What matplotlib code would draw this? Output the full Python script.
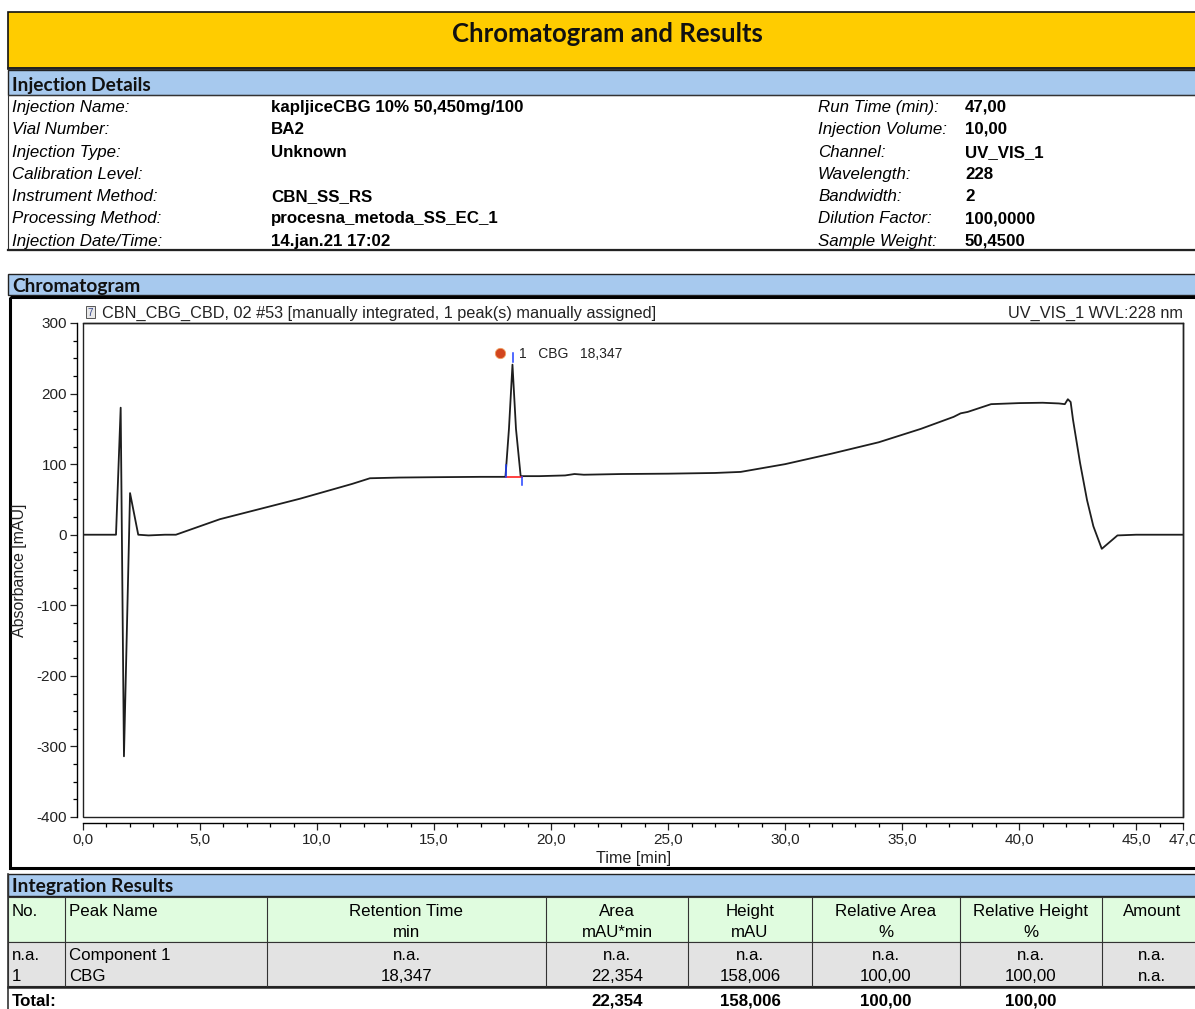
import matplotlib
matplotlib.use("Agg")
import matplotlib.pyplot as plt
from matplotlib.patches import Rectangle
from matplotlib.ticker import MultipleLocator, FixedLocator, FuncFormatter
from matplotlib import rcParams

rcParams.update({
    'font.family': ['Liberation Sans', 'DejaVu Sans'],
    'axes.unicode_minus': False,
})

# ===== data =====
detail_labels_left = ["Injection Name:", "Vial Number:", "Injection Type:", "Calibration Level:",
                      "Instrument Method:", "Processing Method:", "Injection Date/Time:"]
detail_values_left = ["kapljiceCBG 10% 50,450mg/100", "BA2", "Unknown", "",
                      "CBN_SS_RS", "procesna_metoda_SS_EC_1", "14.jan.21 17:02"]
detail_labels_right = ["Run Time (min):", "Injection Volume:", "Channel:", "Wavelength:",
                       "Bandwidth:", "Dilution Factor:", "Sample Weight:"]
detail_values_right = ["47,00", "10,00", "UV_VIS_1", "228", "2", "100,0000", "50,4500"]

# chromatogram trace (time in min, absorbance in mAU)
time_min = [0.0, 1.41, 1.61, 1.75, 2.01, 2.36, 2.8, 3.5, 3.97, 5.85, 9.27, 11.5, 12.26,
            13.5, 15.0, 17.0, 18.05, 18.2, 18.35, 18.5, 18.7, 19.5, 20.6, 21.0, 21.4,
            23.0, 25.0, 27.0, 28.1, 30.0, 32.0, 34.0, 35.8, 37.2, 37.5, 37.8, 38.8,
            40.0, 41.0, 41.7, 41.95, 42.08, 42.2, 42.3, 42.6, 42.9, 43.17, 43.53, 43.9,
            44.2, 45.0, 47.0]
absorb = [0, 0, 180, -314, 59, 0, -1, 0, 0, 22, 51, 72, 80,
          81, 81.5, 82, 82, 150, 241, 150, 83, 83, 84, 86, 85,
          86, 86.5, 87.5, 89, 100, 115, 131, 150, 167, 172, 174, 185,
          186.5, 187, 186, 185, 192, 188, 163, 102, 49, 12, -20, -9.5,
          -1, 0, 0]

peak_rt = 18.347
peak_name = "CBG"
peak_start, peak_end, peak_base = 18.06, 18.75, 82

table_cols = ["No.", "Peak Name", "Retention Time", "Area", "Height",
              "Relative Area", "Relative Height", "Amount"]
table_units = ["", "", "min", "mAU*min", "mAU", "%", "%", ""]
table_rows = [
    ["n.a.", "Component 1", "n.a.", "n.a.", "n.a.", "n.a.", "n.a.", "n.a."],
    ["1", "CBG", "18,347", "22,354", "158,006", "100,00", "100,00", "n.a."],
]
table_total = ["Total:", "", "", "22,354", "158,006", "100,00", "100,00", ""]

# ===== page =====
W, H = 1195, 1009
fig = plt.figure(figsize=(W / 100, H / 100), dpi=100)
page = fig.add_axes([0, 0, 1, 1])
page.set_xlim(0, W)
page.set_ylim(H, 0)
page.axis('off')

YELLOW = "#FFCC00"
BLUE = "#A7C9EE"
GREEN = "#E0FCDF"
GRAY = "#E3E3E3"
HEAD_FONT = ['Lato', 'DejaVu Sans']
FS = 12.2      # report text size
VA = 'center_baseline'


def box(x, y, w, h, fc="none", ec="#222222", lw=1.0, z=1):
    page.add_patch(Rectangle((x, y), w, h, facecolor=fc, edgecolor=ec, lw=lw, zorder=z))


def hline(y, x0, x1, lw=1.0, c="#222222"):
    page.plot([x0, x1], [y, y], color=c, lw=lw, zorder=3)


def vline(x, y0, y1, lw=0.8, c="#333333"):
    page.plot([x, x], [y0, y1], color=c, lw=lw, zorder=3)


# title bar
box(8, 12, 1200, 56, fc=YELLOW, ec="#111111", lw=1.2)
hline(68, 8, W, lw=2)
page.text(607, 32, "Chromatogram and Results", ha='center', va=VA,
          fontsize=18.5, fontweight='bold', family=HEAD_FONT, color="#111111")

# injection details
box(8, 70, 1200, 25, fc=BLUE, ec="#222222", lw=1.0)
page.text(12, 84, "Injection Details", ha='left', va=VA, fontsize=13.8,
          fontweight='bold', family=HEAD_FONT, color="#111111")
box(8, 95, 1200, 155, ec="#333333", lw=0.8)
hline(250, 8, W, lw=1.6)
row_y = [106, 128, 151, 173, 195, 217, 240]
for i, yy in enumerate(row_y):
    page.text(12, yy, detail_labels_left[i], ha='left', va=VA, fontsize=FS, style='italic')
    page.text(271, yy, detail_values_left[i], ha='left', va=VA, fontsize=FS, fontweight='bold')
    page.text(818, yy, detail_labels_right[i], ha='left', va=VA, fontsize=FS, style='italic')
    page.text(965, yy, detail_values_right[i], ha='left', va=VA, fontsize=FS, fontweight='bold')

# chromatogram section
box(8, 274, 1200, 21, fc=BLUE, ec="#222222", lw=1.0)
page.text(12, 285, "Chromatogram", ha='left', va=VA, fontsize=13.8,
          fontweight='bold', family=HEAD_FONT, color="#111111")
box(10, 297, 1200, 571, ec="#000000", lw=2.2)

# small report icon + titles
box(86, 306, 9, 12, fc="#E8E8E8", ec="#555555", lw=0.7, z=4)
page.text(90.5, 312, "7", ha='center', va=VA, fontsize=7, color="#334488", zorder=5)
page.text(102, 312, "CBN_CBG_CBD, 02 #53 [manually integrated, 1 peak(s) manually assigned]",
          ha='left', va=VA, fontsize=11.7, color="#222222")
page.text(1183, 312, "UV_VIS_1 WVL:228 nm", ha='right', va=VA, fontsize=11.7, color="#222222")
page.text(20, 570, "Absorbance [mAU]", ha='center', va='center', rotation=90,
          fontsize=11.4, color="#222222")
page.text(634, 857, "Time [min]", ha='center', va=VA, fontsize=11.6, color="#222222")

# ===== chromatogram axes =====
left, right, top, bottom = 83, 1183, 323, 817
ax = fig.add_axes([left / W, 1 - bottom / H, (right - left) / W, (bottom - top) / H])
ax.set_facecolor('none')
ax.set_xlim(0, 47)
ax.set_ylim(-400, 300)
ax.plot(time_min, absorb, color="#1E1E1E", lw=1.3, zorder=3)

# integration marks
ax.plot([peak_start, peak_end], [peak_base, peak_base], color="#FF2020", lw=1.2, zorder=4)
ax.plot([peak_start, peak_start], [peak_base, 99], color="#2040FF", lw=1.1, zorder=4)
ax.plot([peak_end, peak_end], [peak_base, 70], color="#2040FF", lw=1.1, zorder=4)
ax.plot([18.38, 18.38], [245, 258], color="#2040FF", lw=1.1, zorder=4)
ax.scatter([17.82], [257], s=55, color="#D2451E", marker='o', zorder=5, edgecolors="#F0A060", lw=0.6)
ax.text(18.62, 256, "1   %s   %s" % (peak_name, f"{peak_rt:.3f}".replace('.', ',')),
        ha='left', va='center', fontsize=10, color="#222222")

for s in ['top', 'right']:
    ax.spines[s].set_visible(True)
    ax.spines[s].set_linewidth(1.0)
for s in ['left', 'bottom']:
    ax.spines[s].set_position(('outward', 4.5))
    ax.spines[s].set_linewidth(1.0)
ax.add_patch(Rectangle((0, 0), 1, 1, transform=ax.transAxes, fill=False,
                       ec="#222222", lw=1.0, clip_on=False, zorder=6))

ax.yaxis.set_major_locator(MultipleLocator(100))
ax.yaxis.set_minor_locator(MultipleLocator(25))
ax.xaxis.set_major_locator(FixedLocator([0, 5, 10, 15, 20, 25, 30, 35, 40, 45, 47]))
ax.xaxis.set_minor_locator(MultipleLocator(1))
ax.yaxis.set_major_formatter(FuncFormatter(lambda v, p: f"{v:.0f}"))
ax.xaxis.set_major_formatter(FuncFormatter(lambda v, p: f"{v:.1f}".replace('.', ',')))
ax.tick_params(which='major', direction='out', length=5, width=0.9, labelsize=11,
               colors="#222222", pad=2)
ax.tick_params(which='minor', direction='out', length=3, width=0.9)

# ===== integration results =====
box(8, 874, 1200, 22, fc=BLUE, ec="#222222", lw=1.0)
page.text(12, 885, "Integration Results", ha='left', va=VA, fontsize=13.8,
          fontweight='bold', family=HEAD_FONT, color="#111111")
col_edges = [8, 65, 267, 546, 688, 812, 960, 1102, 1210]
box(8, 897, 1200, 45, fc=GREEN, ec="#333333", lw=0.8)
box(8, 942, 1200, 44, fc=GRAY, ec="#333333", lw=0.8)
hline(987, 8, W, lw=1.8)
for xe in col_edges[1:-1]:
    vline(xe, 897, 986)
vline(8, 874, 1009, lw=1.2)

for i, name in enumerate(table_cols):
    x0, x1 = col_edges[i], col_edges[i + 1]
    if i < 2:
        xt, ha = x0 + 4, 'left'
    else:
        xt, ha = (x0 + x1) / 2, 'center'
    if i == 7:
        xt = 1152
    page.text(xt, 910, name, ha=ha, va=VA, fontsize=FS)
    page.text(xt, 931, table_units[i], ha=ha, va=VA, fontsize=FS)
    for r, yy in zip(table_rows, [954, 975]):
        page.text(xt, yy, r[i], ha=ha, va=VA, fontsize=FS)
    if table_total[i]:
        page.text(12 if i == 0 else xt, 1000, table_total[i], ha='left' if i == 0 else ha,
                  va=VA, fontsize=FS, fontweight='bold')

fig.savefig("out.png", dpi=100)
